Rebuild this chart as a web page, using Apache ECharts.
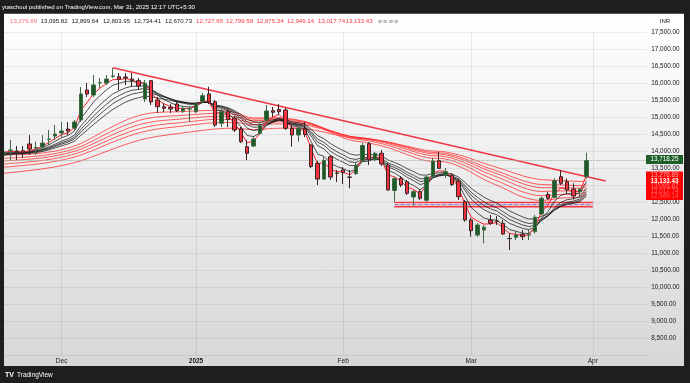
<!DOCTYPE html>
<html><head><meta charset="utf-8">
<script src="https://cdn.jsdelivr.net/npm/echarts@6/dist/echarts.min.js"></script>
<style>html,body{margin:0;padding:0;background:#1e1e1e}#c{width:690px;height:383px}</style>
</head><body><div id="c"></div>
<script>
const dates = ['2024-11-18','2024-11-19','2024-11-21','2024-11-22','2024-11-25','2024-11-26','2024-11-27','2024-11-28','2024-11-29',
'2024-12-02','2024-12-03','2024-12-04','2024-12-05','2024-12-06','2024-12-09','2024-12-10','2024-12-11','2024-12-12','2024-12-13','2024-12-16','2024-12-17','2024-12-18','2024-12-19','2024-12-20','2024-12-23','2024-12-24','2024-12-26','2024-12-27','2024-12-30','2024-12-31',
'2025-01-01','2025-01-02','2025-01-03','2025-01-06','2025-01-07','2025-01-08','2025-01-09','2025-01-10','2025-01-13','2025-01-14','2025-01-15','2025-01-16','2025-01-17','2025-01-20','2025-01-21','2025-01-22','2025-01-23','2025-01-24','2025-01-27','2025-01-28','2025-01-29','2025-01-30','2025-01-31',
'2025-02-01','2025-02-03','2025-02-04','2025-02-05','2025-02-06','2025-02-07','2025-02-10','2025-02-11','2025-02-12','2025-02-13','2025-02-14','2025-02-17','2025-02-18','2025-02-19','2025-02-20','2025-02-21','2025-02-24','2025-02-25','2025-02-27','2025-02-28',
'2025-03-03','2025-03-04','2025-03-05','2025-03-06','2025-03-07','2025-03-10','2025-03-11','2025-03-12','2025-03-13','2025-03-17','2025-03-18','2025-03-19','2025-03-20','2025-03-21','2025-03-24','2025-03-25','2025-03-26','2025-03-27','2025-03-28',
'2025-04-01','2025-04-02','2025-04-03','2025-04-04','2025-04-07','2025-04-08','2025-04-09','2025-04-11','2025-04-15'];

const opens = [13882,14015,14000,14009,14206,14088,14118,14338,14441,14529,14647,14677,14912,15794,15647,16000,16000,16191,16185,16176,16117,16068,15529,16068,15500,15303,15285,15382,15176,15235,15156,15450,15677,15450,14815,15162,14962,14647,14126,14147,14520,14912,15185,15221,15206,14668,14471,14647,14176,13638,13176,13833,13353,13441,13235,13332,13721,14215,13750,13932,13588,12838,13197,13097,12647,12803,12550,13250,13715,13294,13294,13118,12509,11970,11529,11676,11970,11941,11873,11427,11462,11550,11529,11627,12147,12726,12638,13244,13097,12882,12803,13244];
const closes = [13970,14029,13970,13950,14059,14103,14235,14353,14500,14588,14588,14853,15677,15677,15941,16009,16117,16206,16109,16147,16068,15912,15991,15441,15303,15256,15235,15185,15256,15244,15382,15627,15441,14765,15156,14926,14618,14274,13932,14353,14744,15176,15138,15156,14668,14471,14668,14485,13544,13176,13721,13235,13344,13362,13226,13574,14162,13744,13932,13618,12853,13185,13000,12756,12803,12609,13235,13700,13491,13391,13015,12656,11970,11656,11824,11756,11873,11932,11559,11421,11529,11480,11544,12050,12609,12609,13126,13050,12853,12676,12873,13718.25];
const lows = [13824,13735,13735,13794,13882,13882,13970,14176,14324,14412,14471,14618,14853,15588,15588,15853,15941,16147,15794,15941,15882,15794,15441,15353,15118,15147,15118,15147,15118,14862,15118,15412,15382,14706,14706,14706,14559,14235,13735,14118,14471,14853,15000,15059,14618,14126,14274,14412,13500,13000,13147,13147,13088,13029,12903,13294,13676,13588,13706,13559,12840,12509,12941,12706,12397,12559,12500,13206,13471,13206,12970,12559,11921,11480,11480,11285,11824,11824,11529,11088,11382,11382,11382,11579,12118,12559,12609,13000,12756,12580,12656,13197];
const highs = [14029,14324,14147,14147,14471,14274,14471,14618,14765,14853,14853,14912,15882,16000,16235,16147,16235,16441,16294,16294,16294,16147,16088,16088,15588,15412,15382,15441,15323,15323,15441,15706,15891,15500,15235,15235,15029,14706,14324,14441,14853,15353,15294,15382,15265,14735,14735,14853,14206,13706,13824,13882,13441,13529,13441,13647,14235,14265,13970,14029,13647,13235,13265,13147,12853,12853,13265,13794,13979,13500,13353,13197,12559,12029,11882,11824,12118,12088,11970,11579,11627,11676,11676,12118,12656,12803,13197,13441,13197,13050,12903,13950];

const ema3 = [13960,13995,13983,13966,14013,14057,14146,14248,14374,14482,14536,14693,15187,15433,15687,15848,15984,16097,16103,16127,16098,16004,15997,15718,15509,15385,15310,15247,15251,15248,15314,15472,15456,15110,15133,15029,14824,14550,14240,14297,14521,14848,14994,15075,14872,14671,14670,14578,14061,13618,13669,13452,13398,13379,13302,13438,13799,13772,13851,13735,13295,13240,13120,12937,12871,12740,12988,13344,13417,13403,13209,12932,12451,12053,11939,11847,11861,11896,11728,11574,11552,11516,11530,11790,12200,12405,12765,12908,12881,12778,12827,13277];
const ema5 = [13940,13970,13970,13963,13995,14030,14098,14182,14288,14389,14456,14587,14951,15194,15443,15632,15795,15933,15992,16045,16053,16005,16000,15813,15642,15515,15422,15343,15314,15291,15321,15424,15429,15208,15190,15102,14941,14719,14456,14422,14530,14745,14877,14970,14870,14737,14715,14638,14274,13908,13845,13642,13543,13482,13396,13456,13691,13709,13783,13729,13438,13354,13236,13076,12986,12861,12986,13224,13313,13339,13231,13039,12683,12340,12168,12030,11978,11962,11828,11692,11638,11585,11572,11731,12024,12219,12521,12697,12750,12725,12775,13096];
const ema8 = [13920,13944,13950,13950,13974,14002,14054,14120,14204,14290,14357,14467,14737,14947,15168,15355,15525,15677,15773,15857,15904,15905,15924,15816,15701,15603,15521,15446,15404,15369,15371,15429,15431,15283,15255,15182,15057,14883,14671,14601,14633,14753,14839,14909,14856,14770,14748,14690,14436,14156,14059,13876,13758,13670,13571,13572,13703,13712,13760,13729,13535,13457,13355,13222,13129,13014,13063,13205,13268,13295,13233,13105,12853,12587,12418,12271,12183,12127,12001,11872,11796,11726,11686,11767,11954,12100,12328,12488,12570,12593,12656,12900];
const ema10 = [13910,13932,13939,13941,13963,13988,14033,14091,14165,14242,14305,14404,14636,14826,15029,15207,15373,15525,15631,15725,15788,15810,15843,15770,15685,15608,15540,15475,15435,15400,15396,15439,15440,15317,15288,15222,15113,14961,14774,14698,14707,14792,14855,14910,14866,14794,14771,14719,14506,14264,14165,13996,13878,13784,13682,13663,13753,13752,13784,13754,13591,13517,13423,13302,13212,13103,13127,13231,13278,13298,13247,13139,12926,12695,12537,12395,12300,12233,12111,11985,11902,11825,11774,11824,11967,12084,12273,12414,12494,12527,12590,12804];
const ema12 = [13900,13920,13928,13931,13951,13974,14014,14066,14133,14203,14263,14353,14557,14730,14916,15084,15243,15392,15502,15602,15674,15710,15753,15705,15643,15584,15530,15477,15443,15413,15408,15442,15442,15338,15310,15251,15154,15019,14851,14775,14770,14832,14879,14921,14882,14819,14796,14748,14563,14349,14252,14096,13980,13885,13783,13751,13814,13803,13823,13792,13648,13577,13488,13375,13287,13183,13191,13269,13303,13316,13270,13175,12990,12785,12637,12501,12405,12332,12213,12091,12005,11924,11866,11894,12004,12097,12255,12377,12451,12485,12545,12734];
const ema15 = [13880,13899,13908,13913,13931,13952,13987,14032,14091,14153,14208,14288,14462,14614,14780,14934,15082,15223,15334,15436,15515,15564,15617,15595,15558,15521,15485,15447,15423,15401,15398,15427,15429,15346,15322,15272,15190,15076,14933,14861,14846,14887,14919,14949,14914,14858,14834,14790,14634,14452,14360,14219,14110,14016,13917,13874,13910,13889,13894,13860,13734,13665,13582,13479,13395,13297,13289,13340,13359,13363,13319,13236,13078,12900,12766,12640,12544,12467,12354,12237,12149,12065,12000,12006,12082,12148,12270,12368,12429,12460,12512,12671];

const longIdx = [0,3,6,9,12,15,18,21,24,27,30,33,36,39,42,45,48,51,54,57,60,63,66,69,72,75,78,81,84,87,90,91];
const ema30 = [13882,13900,13942,14040,14221,14521,14816,15038,15136,15152,15178,15196,15142,14969,14978,14939,14811,14551,14326,14236,14097,13894,13711,13678,13473,13160,12911,12651,12545,12614,12648,12728];
const ema35 = [13785,13816,13866,13963,14133,14408,14682,14896,15003,15038,15078,15110,15077,14937,14950,14921,14813,14587,14386,14298,14167,13980,13807,13763,13571,13283,13047,12800,12685,12723,12735,12800];
const ema40 = [13706,13745,13799,13894,14054,14308,14564,14770,14882,14930,14981,15022,15005,14891,14909,14889,14798,14600,14420,14337,14216,14044,13882,13833,13654,13388,13165,12930,12810,12826,12823,12875];
const ema45 = [13618,13664,13722,13817,13970,14208,14450,14649,14765,14823,14882,14931,14927,14835,14858,14846,14769,14595,14435,14359,14248,14090,13939,13888,13721,13474,13264,13041,12920,12921,12906,12949];
const ema50 = [13521,13573,13636,13731,13879,14105,14336,14529,14648,14713,14779,14835,14842,14768,14797,14793,14730,14577,14434,14365,14264,14119,13979,13928,13772,13543,13345,13134,13013,13003,12980,13018];
const ema60 = [13344,13405,13474,13570,13710,13916,14128,14310,14431,14507,14582,14648,14672,14626,14664,14674,14632,14513,14398,14344,14261,14139,14019,13972,13836,13637,13461,13272,13157,13135,13103,13133];

const trendX = [17, 94];
const trendY = [16450, 13118];
const zoneX = [61, 92];
const zoneTop = 12490, zoneMid = 12425, zoneBottom = 12360;
const lastPrice = 13718.25;

const monthTicks = ['2024-12-02','2025-01-01','2025-02-01','2025-03-03','2025-04-01'];
const monthLabels = ['Dec','2025','Feb','Mar','Apr'];
const yTicks = [8500,9000,9500,10000,10500,11000,11500,12000,12500,13000,13500,14000,14500,15000,15500,16000,16500,17000,17500];

const headerValues = ['13,276.89','13,095.82','12,899.64','12,803.95','12,734.41','12,670.73','12,727.65','12,799.58','12,875.34','12,949.14','13,017.74','13,133.43'];
const headerColors = ['#f5727a','#131722','#131722','#131722','#131722','#131722','#f23645','#f23645','#f23645','#f23645','#f23645','#f23645'];
const emaScaleLabels = ['13,276.89','13,133.43','13,095.82','13,017.74','12,949.14'];

const FONT = '"Liberation Sans", Arial, sans-serif';
const fmt = v => v.toLocaleString('en-US',{minimumFractionDigits:2,maximumFractionDigits:2});

const chart = echarts.init(document.getElementById('c'), null, {renderer:'canvas'});

const candleData = opens.map((o,i)=>[o, closes[i], lows[i], highs[i]]);
const shortSets = [ema5, ema8, ema10, ema12, ema15];
const longSets = [ema30, ema35, ema40, ema45, ema50, ema60];

const series = [];
// month vertical lines
series.push({type:'line', data:[], silent:true, markLine:{silent:true, symbol:['none','none'], label:{show:false},
  lineStyle:{color:'rgba(0,0,0,0.07)', type:'solid', width:1}, data: monthTicks.map(m=>({xAxis:m}))}});
// support zone
series.push({type:'line', data:[], silent:true, z:3, markArea:{silent:true, itemStyle:{color:'rgba(242,54,69,0.22)'},
  data:[[{xAxis:dates[zoneX[0]], yAxis:zoneTop},{xAxis:dates[zoneX[1]], yAxis:zoneBottom}]]}});
[[zoneTop,'#f23645','solid',1.3],[zoneBottom,'#f23645','solid',1.3],[zoneMid,'#6d8fe0','dashed',1]].forEach(([v,c,t,w])=>{
  series.push({type:'line', data: zoneX.map(x=>[x,v]), symbol:'none', silent:true, z:3, lineStyle:{color:c, type:t, width:w}});
});
longSets.forEach(arr=>{
  series.push({type:'line', data: longIdx.map((x,i)=>[x, arr[i]]), symbol:'none', smooth:0.35, silent:true, z:3,
    lineStyle:{color:'#ff2a2a', width:1, opacity:0.75}});
});
shortSets.forEach(arr=>{
  series.push({type:'line', data: arr, symbol:'none', silent:true, z:4, lineStyle:{color:'#111', width:0.9, opacity:0.8}});
});
series.push({type:'line', data: ema3, symbol:'none', silent:true, z:4, lineStyle:{color:'#ff1f2d', width:1}});
series.push({type:'line', data: trendX.map((x,i)=>[x, trendY[i]]), symbol:'none', silent:true, z:4, lineStyle:{color:'#f23645', width:1.4}});
series.push({type:'candlestick', data: candleData, barWidth:4, z:6,
  itemStyle:{color:'#1d5a27', color0:'#f0323c', borderColor:'#3f6a45', borderColor0:'#3a2526', borderWidth:1},
  markLine:{silent:true, symbol:['none','none'], label:{show:false}, data:[{yAxis:lastPrice}],
    lineStyle:{color:'#9fb0a2', type:'dotted', width:1}}});

const graphics = [
  {type:'rect', z:-10, shape:{x:4,y:13.5,width:680,height:352.5},
    style:{fill:new echarts.graphic.LinearGradient(0,0,0,1,[{offset:0,color:'#ffffff'},{offset:1,color:'#d7d7d7'}])}},
  {type:'rect', z:100, shape:{x:0,y:0,width:690,height:13.5}, style:{fill:'#1e1e1e'}},
  {type:'rect', z:100, shape:{x:0,y:366,width:690,height:17}, style:{fill:'#1e1e1e'}},
  {type:'rect', z:100, shape:{x:0,y:0,width:4,height:383}, style:{fill:'#1e1e1e'}},
  {type:'rect', z:100, shape:{x:684,y:0,width:6,height:383}, style:{fill:'#1e1e1e'}},
  {type:'text', z:101, style:{x:2, y:7, text:'ytaschool published on TradingView.com, Mar 31, 2025 12:17 UTC+5:30', fill:'#ffffff',
    font:'6px '+FONT, textAlign:'left', textVerticalAlign:'middle', align:'left', verticalAlign:'middle'}},
  {type:'text', z:101, style:{x:5, y:375, text:'TV', fill:'#ffffff', font:'bold 7px '+FONT, textVerticalAlign:'middle', verticalAlign:'middle'}},
  {type:'text', z:101, style:{x:17, y:375, text:'TradingView', fill:'#ffffff', font:'6.5px '+FONT, textVerticalAlign:'middle', verticalAlign:'middle'}},
  {type:'rect', z:101, shape:{x:647,y:15,width:36,height:12,r:2}, style:{fill:'#ffffff'}},
  {type:'text', z:102, style:{x:665, y:21, text:'INR', fill:'#131722', font:'6px '+FONT, textAlign:'center', textVerticalAlign:'middle', align:'center', verticalAlign:'middle'}},
  {type:'rect', z:101, shape:{x:646,y:155,width:37,height:9}, style:{fill:'#1d5e29'}},
  {type:'text', z:102, style:{x:664.5, y:159.6, text:fmt(lastPrice), fill:'#ffffff', font:'6.3px '+FONT, textAlign:'center', textVerticalAlign:'middle', align:'center', verticalAlign:'middle'}},
  {type:'rect', z:101, shape:{x:646,y:171.5,width:37,height:28.5}, style:{fill:'#ff0000'}}
];
const hx = [10,40.5,71.5,103,134,165,196,226,256.5,287,318,345.5];
headerValues.forEach((t,i)=>{
  graphics.push({type:'text', z:102, style:{x:hx[i], y:21.5, text:t, fill:headerColors[i], font:'6.1px '+FONT, textVerticalAlign:'middle', verticalAlign:'middle'}});
});
graphics.push({type:'text', z:102, style:{x:378, y:21.5, text:'⊘ ⊘ ⊘ ⊘', fill:'#555', font:'5px '+FONT, textVerticalAlign:'middle', verticalAlign:'middle'}});
const esY = [175.2, 181.3, 186.5, 191.5, 196.3];
const esC = ['rgba(255,190,190,0.9)','#ffffff','rgba(255,220,220,0.55)','rgba(255,220,220,0.45)','rgba(255,220,220,0.4)'];
emaScaleLabels.forEach((t,i)=>{
  graphics.push({type:'text', z:102, style:{x:664.5, y:esY[i], text:t, fill:esC[i], font:(i===1?'bold ':'')+'6.3px '+FONT, textAlign:'center', textVerticalAlign:'middle', align:'center', verticalAlign:'middle'}});
});

chart.setOption({
  animation:false,
  backgroundColor:'#1e1e1e',
  grid:{left:0.8, right:42.8, top:32, bottom:28, containLabel:false},
  xAxis:{type:'category', data:dates, boundaryGap:true,
    axisLine:{show:false}, axisTick:{show:false}, splitLine:{show:false},
    axisLabel:{interval:(i,v)=>monthTicks.includes(v), margin:3, color:'#131722', fontSize:6.5, fontFamily:FONT,
      formatter:v=>{const k=monthTicks.indexOf(v); if(k<0) return ''; return k===1?'{b|'+monthLabels[k]+'}':monthLabels[k];},
      rich:{b:{fontWeight:'bold', fontSize:6.5, color:'#131722', fontFamily:FONT}}}},
  yAxis:{type:'value', position:'right', min:8000, max:17500, interval:500, scale:true,
    axisLine:{show:false}, axisTick:{show:false},
    splitLine:{show:true, lineStyle:{color:'rgba(0,0,0,0.065)', width:1}},
    axisLabel:{margin:4, color:'#131722', fontSize:6.4, fontFamily:FONT,
      formatter:v=> yTicks.includes(v) ? fmt(v) : ''}},
  series,
  graphic:{elements:graphics}
});
</script></body></html>
